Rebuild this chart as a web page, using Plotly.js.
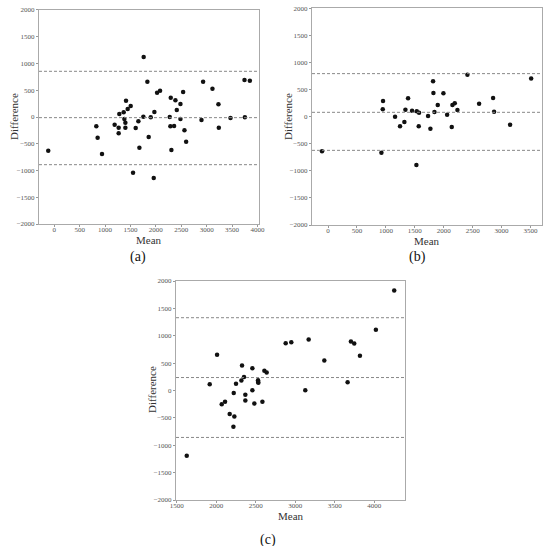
<!DOCTYPE html>
<html>
<head>
<meta charset="utf-8">
<script src="https://cdn.plot.ly/plotly-3.0.1.min.js"></script>
<style>
  body { margin: 0; background: #fff; }
  #chart { width: 550px; height: 546px; }
</style>
</head>
<body>
<div id="chart"></div>
<script>
// (a)
var meanA = [-118, 828, 854, 940, 1189, 1268, 1268, 1281, 1367, 1380, 1400, 1400, 1413, 1446, 1505, 1603, 1656, 1676, 1551, 1754, 1760, 1833, 1859, 1899, 1958, 1971, 2024, 2083, 2273, 2286, 2293, 2306, 2359, 2385, 2412, 2484, 2484, 2537, 2563, 2596, 2898, 2930, 3114, 3232, 3239, 3469, 3745, 3752, 3850];
var diffA = [-629, -174, -386, -692, -143, -199, -305, 56, 87, -37, -106, -199, 305, 150, 206, -206, -81, -573, -1040, 6, 1121, 660, -374, -6, -1140, 93, 455, 492, 0, -174, 361, -617, -168, 312, 131, 243, -37, 467, -249, -461, -56, 660, 530, 237, -199, -19, 692, -6, 679];
var limitsA = [854, -12, -891];

// (b)
var meanB = [-104, 923, 951, 946, 1159, 1245, 1320, 1338, 1384, 1453, 1534, 1528, 1574, 1568, 1730, 1770, 1816, 1822, 1840, 1897, 1995, 2059, 2139, 2151, 2191, 2237, 2410, 2612, 2854, 2871, 3148, 3512];
var diffB = [-640, -665, 289, 135, 0, -178, -98, 129, 338, 111, 98, -892, 74, -178, 12, -222, 652, 437, 86, 215, 431, 37, -191, 215, 246, 123, 775, 240, 345, 92, -148, 702];
var limitsB = [794, 80, -622];

// (c)
var meanC = [1626, 1917, 2010, 2069, 2111, 2170, 2221, 2229, 2217, 2250, 2318, 2326, 2351, 2368, 2368, 2457, 2457, 2482, 2529, 2529, 2533, 2584, 2609, 2638, 2879, 2950, 3127, 3170, 3368, 3663, 3705, 3747, 3819, 4021, 4253];
var diffC = [-1189, 114, 654, -249, -206, -427, -46, -476, -661, 126, 181, 458, 249, -77, -181, 409, 3, -237, 187, 157, 144, -206, 359, 329, 863, 882, 3, 931, 550, 150, 894, 857, 636, 1109, 1827];
var limitsC = [1330, 237, -857];

var panelLabels = ['(a)', '(b)', '(c)'];
var xTitle = 'Mean';
var yTitle = 'Difference';

var serif = "'Liberation Serif', 'DejaVu Serif', serif";
var marker = {color: '#111', size: 4.5};

var data = [
  {x: meanA, y: diffA, xaxis: 'x', yaxis: 'y', mode: 'markers', type: 'scatter', marker: marker},
  {x: meanB, y: diffB, xaxis: 'x2', yaxis: 'y2', mode: 'markers', type: 'scatter', marker: marker},
  {x: meanC, y: diffC, xaxis: 'x3', yaxis: 'y3', mode: 'markers', type: 'scatter', marker: marker}
];

function xax(domain, range, anchor) {
  return {
    domain: domain, range: range, anchor: anchor,
    showgrid: false, zeroline: false,
    showline: true, mirror: true, linecolor: '#aaa', linewidth: 1,
    ticks: 'outside', ticklen: 2, tickcolor: '#999', dtick: 500,
    ticklabelstandoff: -3,
    tickfont: {family: serif, size: 7, color: '#555'}
  };
}
function yax(domain, anchor) {
  return {
    domain: domain, range: [-2000, 2000], anchor: anchor,
    showgrid: false, zeroline: false,
    showline: true, mirror: true, linecolor: '#aaa', linewidth: 1,
    ticks: 'outside', ticklen: 2, tickcolor: '#999', dtick: 500,
    tickfont: {family: serif, size: 7, color: '#555'}
  };
}

var shapes = [];
[[limitsA, 'x', 'y'], [limitsB, 'x2', 'y2'], [limitsC, 'x3', 'y3']].forEach(function (p) {
  p[0].forEach(function (v) {
    shapes.push({type: 'line', xref: p[1] + ' domain', yref: p[2], x0: 0, x1: 1, y0: v, y1: v,
      line: {color: '#888', width: 1, dash: '3px,2px'}});
  });
});

function note(text, px, py, size, angle) {
  return {
    text: text, x: px / 550, y: 1 - py / 546, xref: 'paper', yref: 'paper',
    showarrow: false, xanchor: 'center', yanchor: 'middle', textangle: angle || 0,
    font: {family: serif, size: size, color: size > 12 ? '#111' : '#333'}
  };
}

var layout = {
  width: 550, height: 546,
  margin: {l: 0, r: 0, t: 0, b: 0},
  paper_bgcolor: '#fff', plot_bgcolor: '#fff',
  showlegend: false,
  xaxis: xax([0.0709, 0.4709], [-300, 4030], 'y'),
  yaxis: yax([0.5897, 0.9817], 'x'),
  xaxis2: xax([0.5673, 0.9855], [-277, 3700], 'y2'),
  yaxis2: yax([0.5879, 0.9848], 'x2'),
  xaxis3: xax([0.32, 0.7364], [1490, 4390], 'y3'),
  yaxis3: yax([0.0842, 0.4853], 'x3'),
  shapes: shapes,
  annotations: [
    note(panelLabels[0], 138, 257, 14),
    note(panelLabels[1], 417, 257, 14),
    note(panelLabels[2], 268, 540, 14),
    note(xTitle, 149, 240, 11),
    note(xTitle, 427, 241, 11),
    note(xTitle, 291, 516, 11),
    note(yTitle, 14, 117, 11, -90),
    note(yTitle, 288, 117, 11, -90),
    note(yTitle, 152, 390, 11, -90)
  ]
};

Plotly.newPlot('chart', data, layout, {displayModeBar: false});
</script>
</body>
</html>
